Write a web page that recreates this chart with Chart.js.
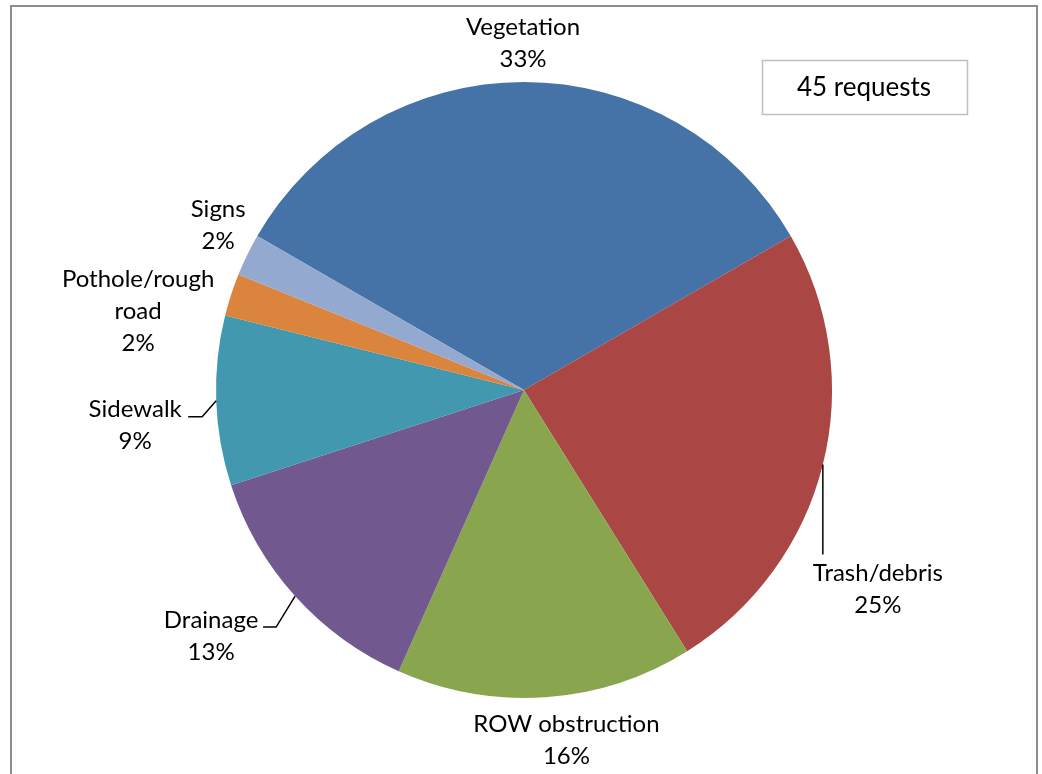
<!DOCTYPE html>
<html lang="en">
<head>
    <meta charset="UTF-8">
    <title>Requests by type</title>
    <script src="https://cdn.jsdelivr.net/npm/chart.js"></script>
    <style>
        html, body { margin: 0; padding: 0; background: #fff; }
        canvas { display: block; }
    </style>
</head>
<body>
    <canvas id="pieChart" width="1042" height="774"></canvas>

<script>
    // data
    const categories = ['Vegetation', 'Trash/debris', 'ROW obstruction', 'Drainage', 'Sidewalk', 'Pothole/rough road', 'Signs'];
    const requests = [15, 11, 7, 6, 4, 1, 1];
    const shareLabels = ['33%', '25%', '16%', '13%', '9%', '2%', '2%'];
    const colors = ['#4572A7', '#AA4643', '#89A54E', '#71588F', '#4198AF', '#DB843D', '#93A9CF'];

    // where each label sits, relative to the middle of its slice's rim
    const labelPlace = [
        { dx: -1, dy: -39 },
        { dx: 55, dy: 125, leader: [[0, 90]] },
        { dx: 21, dy: 43 },
        { dx: -84, dy: 40, leader: [[-19, 31], [-32, 31]] },
        { dx: -81, dy: 25, leader: [[-14, 16], [-28, 16]] },
        { dx: -93, dy: 16, wrap: true },
        { dx: -29, dy: -30 }
    ];

    const FONT = '24px Lato, "Open Sans", sans-serif';

    const framePlugin = {
        id: 'frame',
        beforeDraw(chart) {
            const ctx = chart.ctx;
            ctx.save();
            ctx.fillStyle = '#fff';
            ctx.fillRect(0, 0, chart.width, chart.height);
            ctx.strokeStyle = '#8c8c8c';
            ctx.lineWidth = 2;
            ctx.strokeRect(11, 6, 1026, 820);
            ctx.restore();
        }
    };

    const labelsPlugin = {
        id: 'sliceLabels',
        afterDraw(chart) {
            const ctx = chart.ctx;
            const arcs = chart.getDatasetMeta(0).data;
            ctx.save();
            ctx.font = FONT;
            ctx.fillStyle = '#000';
            ctx.textAlign = 'center';
            ctx.textBaseline = 'middle';
            arcs.forEach(function (arc, i) {
                const mid = (arc.startAngle + arc.endAngle) / 2;
                const ex = arc.x + Math.cos(mid) * arc.outerRadius;
                const ey = arc.y + Math.sin(mid) * arc.outerRadius;
                const p = labelPlace[i];

                if (p.leader) {
                    ctx.beginPath();
                    ctx.strokeStyle = '#000';
                    ctx.lineWidth = 1.5;
                    ctx.moveTo(ex, ey);
                    p.leader.forEach(function (pt) { ctx.lineTo(ex + pt[0], ey + pt[1]); });
                    ctx.stroke();
                }

                let lines = p.wrap ? categories[i].split(' ') : [categories[i]];
                lines = lines.concat([shareLabels[i]]);
                const lh = 32;
                const cx = ex + p.dx;
                const cy = ey + p.dy;
                const top = cy - (lines.length - 1) * lh / 2;
                lines.forEach(function (t, k) {
                    ctx.fillText(t, cx, top + k * lh);
                });
            });

            // total box
            const total = requests.reduce(function (a, b) { return a + b; }, 0);
            ctx.strokeStyle = '#bfbfbf';
            ctx.lineWidth = 1.5;
            ctx.strokeRect(762.5, 60.5, 205, 54);
            ctx.font = '26px Lato, "Open Sans", sans-serif';
            ctx.fillText(total + ' requests', 864, 88);
            ctx.restore();
        }
    };

    const grafico = document.getElementById('pieChart');

    const config = {
        type: 'pie',
        data: {
            labels: categories,
            datasets: [{
                data: requests,
                backgroundColor: colors,
                borderWidth: 0
            }]
        },
        options: {
            responsive: false,
            animation: false,
            rotation: -60,
            layout: {
                padding: { left: 216, right: 210, top: 82, bottom: 76 }
            },
            plugins: {
                legend: { display: false },
                tooltip: { enabled: false }
            }
        },
        plugins: [framePlugin, labelsPlugin]
    };

    new Chart(grafico, config);
</script>
</body>
</html>
